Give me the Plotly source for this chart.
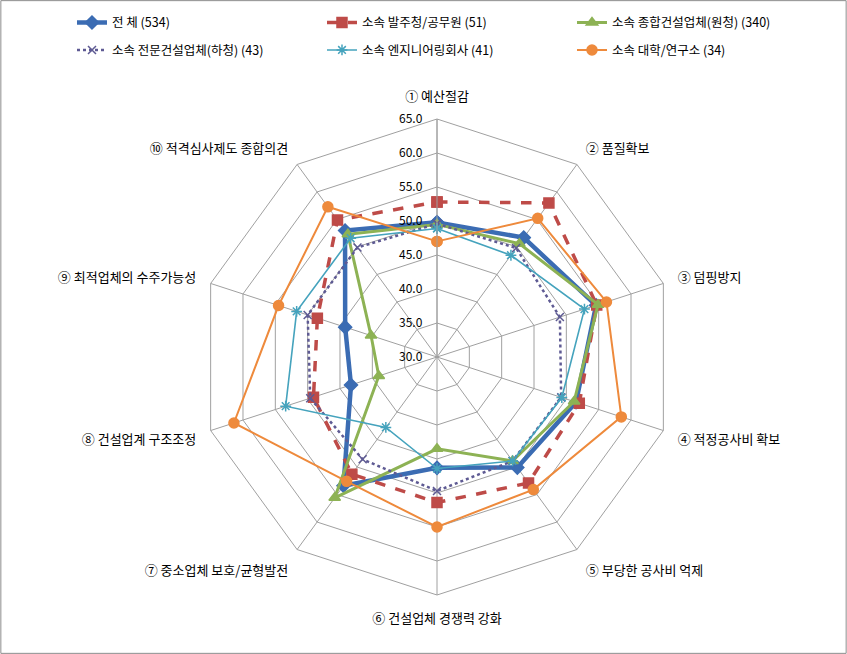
import plotly.graph_objects as go

# 평가 항목 (방사축)
항목 = ["① 예산절감", "② 품질확보", "③ 덤핑방지", "④ 적정공사비 확보", "⑤ 부당한 공사비 억제",
       "⑥ 건설업체 경쟁력 강화", "⑦ 중소업체 보호/균형발전", "⑧ 건설업계 구조조정",
       "⑨ 최적업체의 수주가능성", "⑩ 적격심사제도 종합의견"]

# 응답자 소속별 평균 점수
전체 = [49.8, 51.7, 54.6, 51.5, 50.1, 46.3, 53.4, 43.3, 44.2, 53.0]
발주청 = [52.8, 58.0, 54.7, 52.0, 52.9, 51.4, 51.3, 49.1, 48.5, 54.9]
종합건설 = [49.5, 50.6, 54.9, 51.2, 48.9, 43.5, 55.6, 39.0, 40.2, 52.3]
전문건설 = [49.6, 49.8, 49.0, 49.2, 48.9, 49.7, 48.6, 49.6, 50.0, 49.9]
엔지니어링 = [48.9, 48.5, 52.8, 49.3, 48.9, 46.4, 42.8, 53.4, 51.7, 51.6]
대학연구소 = [47.0, 55.2, 56.2, 58.5, 54.1, 55.0, 52.6, 61.4, 54.5, 57.3]

이름 = ["전 체 (534)", "소속 발주청/공무원 (51)", "소속 종합건설업체(원청) (340)",
      "소속 전문건설업체(하청) (43)", "소속 엔지니어링회사 (41)", "소속 대학/연구소 (34)"]
값들 = [전체, 발주청, 종합건설, 전문건설, 엔지니어링, 대학연구소]

스타일 = [
    dict(color="#3B6CB3", width=4.5, dash="solid", symbol="diamond", size=10),
    dict(color="#BE4B48", width=3.5, dash="dash", symbol="square", size=10),
    dict(color="#8DB254", width=3, dash="solid", symbol="triangle-up", size=10),
    dict(color="#5E5A93", width=2.5, dash="dot", symbol="x-thin-open", size=8),
    dict(color="#45A3BD", width=1.6, dash="solid", symbol="asterisk-open", size=9),
    dict(color="#EE8A3C", width=2, dash="solid", symbol="circle", size=10),
]

W, H = 847, 654
cx, cy, R = 437, 357, 238
투명 = "rgba(0,0,0,0)"

fig = go.Figure()
for i, (nm, v, s) in enumerate(zip(이름, 값들, 스타일)):
    fig.add_trace(go.Scatterpolar(
        r=v + v[:1], theta=항목 + 항목[:1], name=nm, mode="lines+markers",
        line=dict(color=s["color"], width=s["width"], dash=s["dash"]),
        marker=dict(symbol=s["symbol"], size=s["size"], color=s["color"],
                    line=dict(color=s["color"], width=1.5)),
        legend="legend" if i < 3 else "legend2",
    ))

fig.update_layout(
    width=W, height=H,
    margin=dict(l=0, r=0, t=0, b=0),
    paper_bgcolor="white",
    font=dict(family="Noto Sans CJK KR, sans-serif", size=12, color="black"),
    polar=dict(
        domain=dict(x=[(cx - R) / W, (cx + R) / W],
                    y=[1 - (cy + R) / H, 1 - (cy - R) / H]),
        bgcolor="white",
        gridshape="linear",
        radialaxis=dict(range=[30, 65], dtick=5, tick0=30, tickformat=".1f",
                        angle=90, tickangle=90, side="counterclockwise",
                        showline=True, linecolor="#A0A0A0", gridcolor="#A0A0A0",
                        ticks="outside", ticklen=10, tickcolor=투명,
                        tickfont=dict(size=12)),
        angularaxis=dict(direction="clockwise", rotation=90,
                         linecolor="#A0A0A0", gridcolor="#A0A0A0",
                         ticks="outside", ticklen=12, tickcolor=투명,
                         tickfont=dict(size=13)),
    ),
    legend=dict(orientation="h", x=0.085, y=0.988, xanchor="left", yanchor="top",
                entrywidth=205, entrywidthmode="pixels", font=dict(size=12.5)),
    legend2=dict(orientation="h", x=0.085, y=0.946, xanchor="left", yanchor="top",
                 entrywidth=205, entrywidthmode="pixels", font=dict(size=12.5)),
    shapes=[dict(type="rect", xref="paper", yref="paper", x0=0.001, y0=0.001,
                 x1=0.999, y1=0.999, line=dict(color="#8C8C8C", width=1))],
)

fig.write_html("out.html", config={"displayModeBar": False},
               post_script="document.body.style.margin='0';")
